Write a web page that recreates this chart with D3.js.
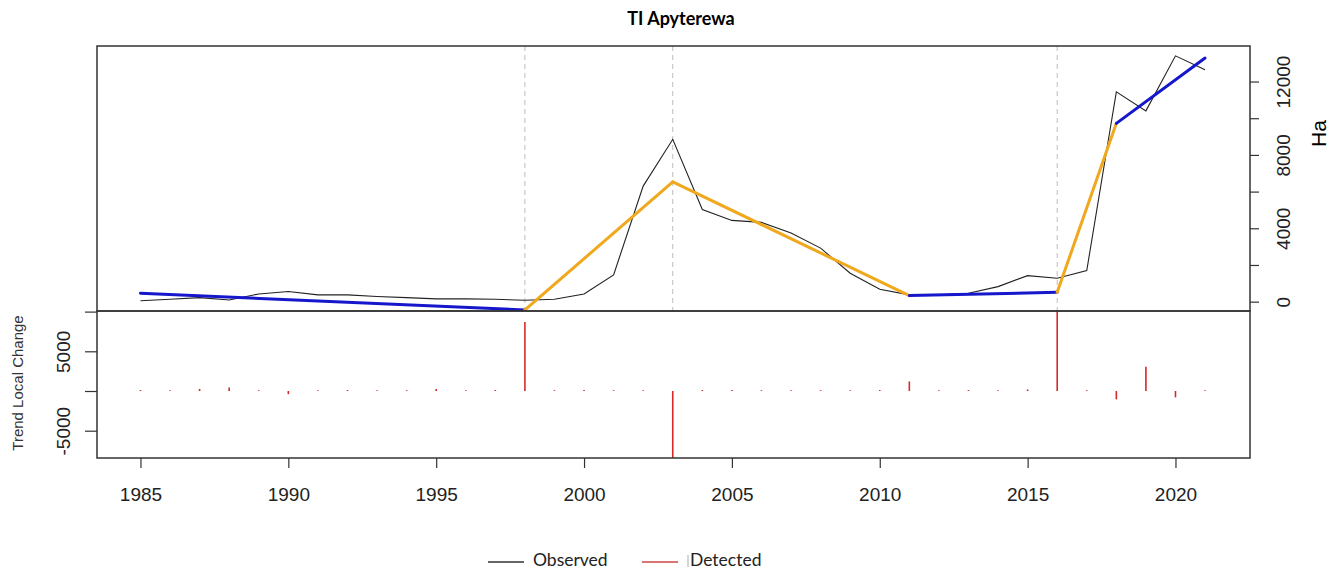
<!DOCTYPE html>
<html>
<head>
<meta charset="utf-8">
<script src="https://cdn.jsdelivr.net/npm/d3@7"></script>
<style>
  body { margin: 0; background: #fff; }
  svg { display: block; }
</style>
</head>
<body>
<svg id="chart" width="1330" height="570"></svg>
<script>
// ---- data ----
const years = [1985, 1986, 1987, 1988, 1989, 1990, 1991, 1992, 1993, 1994,
    1995, 1996, 1997, 1998, 1999, 2000, 2001, 2002, 2003, 2004,
    2005, 2006, 2007, 2008, 2009, 2010, 2011, 2012, 2013, 2014,
    2015, 2016, 2017, 2018, 2019, 2020, 2021];

const observed = [50, 130, 220, 90, 420, 550, 370, 370, 280, 220,
    150, 150, 130, 75, 130, 420, 1460, 6300, 8850, 5020,
    4430, 4320, 3740, 2920, 1550, 680, 370, 370, 460, 820,
    1420, 1280, 1700, 11440, 10400, 13400, 12640];

// trend local change (bottom panel)
const detected = [120, 100, 250, 450, 100, -400, 100, 120, 100, 100,
    250, 100, 120, 8700, 100, 120, 100, 100, -8500, 120,
    120, 100, 100, 100, 100, 120, 1200, 100, 120, 100,
    200, 10100, 100, -1050, 3050, -800, 100];

// fitted trend, piecewise linear between breakpoints
const breakYears = [1985, 1998, 2003, 2011, 2016, 2018, 2021];
const trendValues = [460, -450, 6530, 330, 510, 9720, 13280];
const segmentKind = ['stable', 'abrupt', 'abrupt', 'stable', 'abrupt', 'stable'];

const changeYears = [1998, 2003, 2016];

const topTicks = [0, 2000, 4000, 6000, 8000, 10000, 12000];
const topLabels = [0, 4000, 8000, 12000];
const bottomTicks = [-5000, 0, 5000, 10000];
const bottomLabels = [-5000, 5000];
const yearTicks = [1985, 1990, 1995, 2000, 2005, 2010, 2015, 2020];

const title = 'TI Apyterewa';
const legendItems = ['Observed', 'Detected'];

// ---- layout ----
const left = 97, right = 1250;
const top1 = 46, mid = 311, bottom2 = 458;
const numFont = '"Liberation Sans", Arial, sans-serif';
const textFont = 'Lato, "Open Sans", sans-serif';
const kindColor = {stable: '#1616cc', abrupt: '#f0a81c'};

const svg = d3.select('#chart');

const x = d3.scaleLinear().domain([1983.53, 2022.52]).range([left, right]);
const yTop = d3.scaleLinear().domain([-509, 13937]).range([mid, top1]);
const yBot = d3.scaleLinear().domain([-8438, 10076]).range([bottom2, mid]);

svg.append('defs').call(d => {
    d.append('clipPath').attr('id', 'clipTop')
        .append('rect').attr('x', left).attr('y', top1)
        .attr('width', right - left).attr('height', mid - top1);
    d.append('clipPath').attr('id', 'clipBot')
        .append('rect').attr('x', left).attr('y', mid)
        .attr('width', right - left).attr('height', bottom2 - mid);
});

// title
svg.append('text')
    .attr('x', 681).attr('y', 25)
    .attr('text-anchor', 'middle')
    .style('font-family', textFont)
    .style('font-weight', 'bold')
    .style('font-size', '18px')
    .text(title);

// ---- top panel ----
const topG = svg.append('g').attr('clip-path', 'url(#clipTop)');

topG.selectAll('.brk')
    .data(changeYears)
    .join('line')
    .attr('class', 'brk')
    .attr('x1', d => x(d)).attr('x2', d => x(d))
    .attr('y1', top1).attr('y2', mid)
    .attr('stroke', '#bdbdbd')
    .attr('stroke-width', 1)
    .attr('stroke-dasharray', '5,4');

const obsLine = d3.line()
    .x((d, i) => x(years[i]))
    .y(d => yTop(d));

topG.append('path')
    .datum(observed)
    .attr('fill', 'none')
    .attr('stroke', '#222')
    .attr('stroke-width', 1.1)
    .attr('d', obsLine);

const segments = segmentKind.map((k, i) => ({
    kind: k,
    pts: [[breakYears[i], trendValues[i]], [breakYears[i + 1], trendValues[i + 1]]]
}));

topG.selectAll('.trend')
    .data(segments)
    .join('path')
    .attr('class', 'trend')
    .attr('fill', 'none')
    .attr('stroke', d => kindColor[d.kind])
    .attr('stroke-width', 3)
    .attr('stroke-linecap', 'round')
    .attr('d', d => d3.line().x(p => x(p[0])).y(p => yTop(p[1]))(d.pts));

const rightAxis = d3.axisRight(yTop)
    .tickValues(topTicks)
    .tickSize(9)
    .tickFormat(d => topLabels.includes(d) ? d : '');

svg.append('g')
    .attr('transform', `translate(${right},0)`)
    .call(rightAxis)
    .call(g => g.select('.domain').remove())
    .call(g => g.selectAll('line').attr('stroke', '#333').attr('stroke-width', 1.2))
    .call(g => g.selectAll('text')
        .attr('x', 0).attr('y', 0).attr('dy', '0.36em')
        .attr('transform', 'translate(33,0) rotate(-90)')
        .attr('text-anchor', 'middle')
        .attr('fill', '#222')
        .style('font-family', numFont)
        .style('font-size', '19px'));

svg.append('text')
    .attr('transform', `translate(1318,${(top1 + mid) / 2 - 45}) rotate(-90)`)
    .attr('dy', '0.36em')
    .attr('text-anchor', 'middle')
    .style('font-family', numFont)
    .style('font-size', '21px')
    .text('Ha');

// ---- bottom panel ----
const botG = svg.append('g').attr('clip-path', 'url(#clipBot)');

botG.selectAll('.chg')
    .data(detected)
    .join('line')
    .attr('class', 'chg')
    .attr('x1', (d, i) => x(years[i])).attr('x2', (d, i) => x(years[i]))
    .attr('y1', yBot(0)).attr('y2', d => yBot(d))
    .attr('stroke', '#d42a2a')
    .attr('stroke-width', 1.6);

const leftAxis = d3.axisLeft(yBot)
    .tickValues(bottomTicks)
    .tickSize(12)
    .tickFormat(d => bottomLabels.includes(d) ? d : '');

svg.append('g')
    .attr('transform', `translate(${left},0)`)
    .call(leftAxis)
    .call(g => g.select('.domain').remove())
    .call(g => g.selectAll('line').attr('stroke', '#333').attr('stroke-width', 1.2))
    .call(g => g.selectAll('text')
        .attr('x', 0).attr('y', 0).attr('dy', '0.36em')
        .attr('transform', 'translate(-34,0) rotate(-90)')
        .attr('text-anchor', 'middle')
        .attr('fill', '#222')
        .style('font-family', numFont)
        .style('font-size', '19px'));

svg.append('text')
    .attr('transform', 'translate(18,383) rotate(-90)')
    .attr('dy', '0.36em')
    .attr('text-anchor', 'middle')
    .attr('fill', '#333')
    .style('font-family', numFont)
    .style('font-size', '15px')
    .text('Trend Local Change');

const xAxis = d3.axisBottom(x)
    .tickValues(yearTicks)
    .tickSize(10)
    .tickPadding(20)
    .tickFormat(d3.format('d'));

svg.append('g')
    .attr('transform', `translate(0,${bottom2})`)
    .call(xAxis)
    .call(g => g.select('.domain').remove())
    .call(g => g.selectAll('line').attr('stroke', '#333').attr('stroke-width', 1.2))
    .call(g => g.selectAll('text')
        .attr('fill', '#222')
        .style('font-family', numFont)
        .style('font-size', '19px'));

// panel frames
svg.append('rect')
    .attr('x', left).attr('y', top1)
    .attr('width', right - left).attr('height', mid - top1)
    .attr('fill', 'none').attr('stroke', '#333').attr('stroke-width', 1.5);
svg.append('rect')
    .attr('x', left).attr('y', mid)
    .attr('width', right - left).attr('height', bottom2 - mid)
    .attr('fill', 'none').attr('stroke', '#333').attr('stroke-width', 1.5);

// ---- legend ----
const legendColors = ['#333', '#d04545'];
const legendX = [488, 642];
const legend = svg.append('g').attr('transform', 'translate(0,560)');

legend.selectAll('.legend-item')
    .data(legendItems)
    .join('g')
    .attr('class', 'legend-item')
    .attr('transform', (d, i) => `translate(${legendX[i]},0)`)
    .call(g => {
        g.append('line')
            .attr('x1', 0).attr('x2', 36)
            .attr('y1', 2).attr('y2', 2)
            .attr('stroke', (d, i) => legendColors[i])
            .attr('stroke-width', 1.5);
        g.append('text')
            .attr('x', (d, i) => i === 0 ? 45 : 48)
            .attr('y', 6)
            .style('font-family', textFont)
            .style('font-size', '17.5px')
            .attr('fill', '#222')
            .text(d => d);
    });

legend.append('line')
    .attr('x1', 688).attr('x2', 688)
    .attr('y1', -5).attr('y2', 7)
    .attr('stroke', '#aaa').attr('stroke-width', 1);
</script>
</body>
</html>
